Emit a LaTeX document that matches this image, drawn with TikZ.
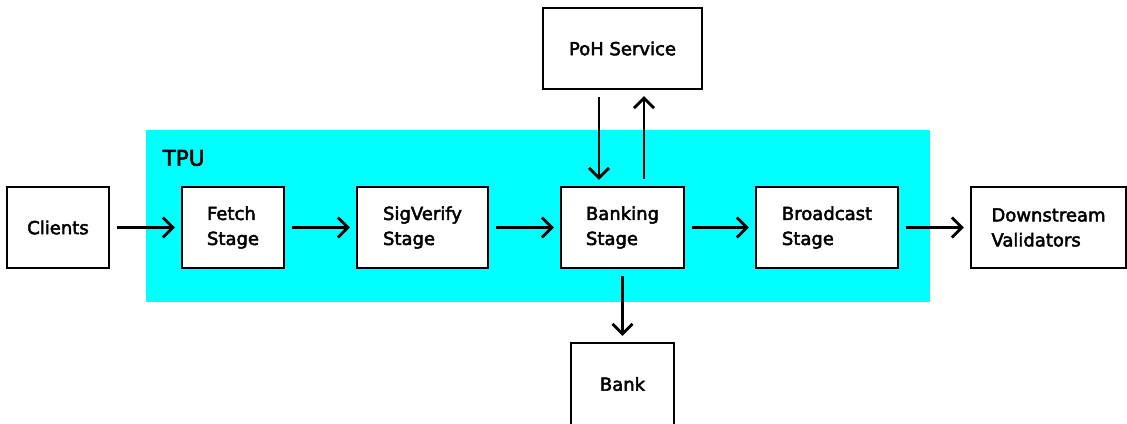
\documentclass[tikz,border=0pt]{standalone}
\usepackage{fontspec}
\setmainfont{DejaVu Sans}[RawFeature={embolden=2.6}]
\usetikzlibrary{arrows.meta}
\definecolor{tpucyan}{HTML}{00FFFF}
\tikzset{
  stagebox/.style={draw=black, line width=2.3pt, fill=white, minimum height=81pt,
    align=left, inner sep=0pt, font=\fontsize{18}{25}\selectfont},
  flow/.style={line width=2.8pt, -{Straight Barb[length=10pt,width=20pt,line width=2.8pt]},
    shorten <=7pt, shorten >=6pt},
}
\begin{document}
\begin{tikzpicture}[x=1pt,y=-1pt]
  \useasboundingbox (0,0) rectangle (1127,423);
  \clip (0,0) rectangle (1127,423);

  % TPU region
  \fill[tpucyan] (146,130) rectangle (930,302);
  \node[anchor=west, font=\fontsize{21.5}{24}\selectfont, inner sep=0pt] (tpu) at (162.5,158) {TPU};

  % pipeline stages
  \node[stagebox, minimum width=102pt] (clients)   at (58,227.5)   {Clients};
  \node[stagebox, minimum width=102pt] (fetch)     at (233,227.5)  {Fetch\\Stage};
  \node[stagebox, minimum width=131pt] (sigverify) at (422.5,227.5) {SigVerify\\Stage};
  \node[stagebox, minimum width=123pt] (banking)   at (622.5,227.5) {Banking\\Stage};
  \node[stagebox, minimum width=142pt] (broadcast) at (827,227.5)  {Broadcast\\Stage};
  \node[stagebox, minimum width=155pt] (down)      at (1048.5,227.5) {Downstream\\Validators};

  % services around the banking stage
  \node[stagebox, minimum width=159pt] (poh)  at (622.5,48.5) {PoH Service};
  \node[stagebox, minimum width=103pt, minimum height=110pt] (bank) at (622.5,398) {};
  \node[font=\fontsize{18}{22}\selectfont] (banklabel) at (622.5,384) {Bank};

  % connectors
  \draw[flow] (clients.east) -- (fetch.west);
  \draw[flow] (fetch.east) -- (sigverify.west);
  \draw[flow] (sigverify.east) -- (banking.west);
  \draw[flow] (banking.east) -- (broadcast.west);
  \draw[flow] (broadcast.east) -- (down.west);
  \draw[flow] ([xshift=-23.5pt]poh.south) -- ([xshift=-23.5pt]banking.north);
  \draw[flow] ([xshift=21.5pt]banking.north) -- ([xshift=21.5pt]poh.south);
  \draw[flow] (banking.south) -- (bank.north);
\end{tikzpicture}
\end{document}
